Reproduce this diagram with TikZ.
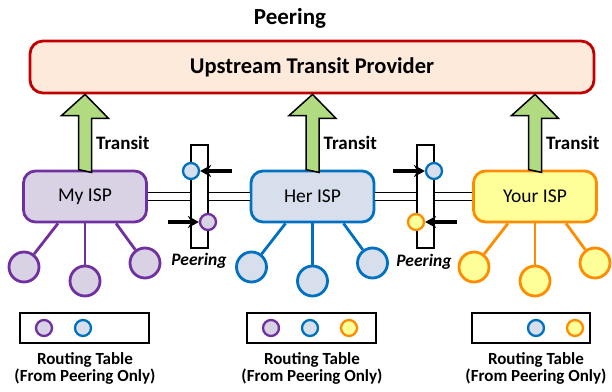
\documentclass[tikz,border=0pt]{standalone}
\usepackage{fontspec}
\setmainfont{Carlito}
\usetikzlibrary{arrows.meta,calc}

% Colores
\definecolor{rojo}{HTML}{C00000}
\definecolor{salmon}{HTML}{FDEADA}
\definecolor{verde}{HTML}{B0DB80}
\definecolor{morado}{HTML}{7030A0}
\definecolor{lila}{HTML}{D9D2E5}
\definecolor{azul}{HTML}{0070C0}
\definecolor{celeste}{HTML}{D6DFEB}
\definecolor{naranja}{HTML}{FF8C00}
\definecolor{amarillo}{HTML}{FFFF99}

\tikzset{
  upstream/.style={draw=rojo, fill=salmon, line width=2.8pt, rounded corners=13pt,
    minimum width=564pt, minimum height=52pt, inner sep=0pt,
    font=\fontsize{22.5}{26}\selectfont\bfseries},
  isp/.style 2 args={draw=#1, fill=#2, line width=2.8pt, rounded corners=12pt,
    minimum width=123pt, minimum height=51pt, inner sep=0pt,
    font=\fontsize{19.5}{22}\selectfont},
  hoja/.style 2 args={circle, draw=#1, fill=#2, line width=2.8pt,
    minimum size=30pt, inner sep=0pt},
  punto/.style 2 args={circle, draw=#1, fill=#2, line width=2.3pt,
    minimum size=16pt, inner sep=0pt},
  rama/.style={draw=#1, line width=2.8pt},
  transito/.style={draw=black, fill=verde, line width=1.5pt, line join=miter},
  enlace/.style={line width=1.6pt, double=white, double distance=6.5pt},
  barra/.style={draw, fill=white, line width=1.6pt, minimum width=17pt,
    minimum height=103pt, inner sep=0pt},
  flecha/.style={line width=3.2pt, -{Stealth[length=11pt,width=12pt]}},
  tabla/.style={draw, line width=2.8pt, minimum height=30pt, inner sep=0pt},
  etiqueta/.style={font=\fontsize{19}{22}\selectfont\bfseries, inner sep=0pt},
  leyenda/.style={align=center, inner sep=0pt, font=\fontsize{17}{17}\selectfont\bfseries},
  peering/.style={inner sep=0pt, font=\fontsize{17.5}{20}\selectfont\bfseries\itshape}
}

\begin{document}
\begin{tikzpicture}[x=1pt,y=1pt]
    \useasboundingbox (0,0) rectangle (612,391);

    % Proveedor de transito
    \node[font=\fontsize{23}{26}\selectfont\bfseries] (titulo) at (290,373) {Peering};
    \node[upstream] (up) at (312,324) {Upstream Transit Provider};

    % Los tres ISP
    \node[isp={morado}{lila}] (my) at (85,194.5) {My ISP};
    \node[isp={azul}{celeste}] (her) at (312.5,194.5) {Her ISP};
    \node[isp={naranja}{amarillo}] (your) at (535,194.5) {Your ISP};

    % Flechas verdes de transito
    \foreach \n in {my,her,your}{
      \draw[transito] ($(\n.north)+(-6.5,0)$) -- ++(0,54) -- ++(-17,0)
        -- (\n.north |- up.south) -- ++(23.5,-24) -- ++(-17,0) -- ++(0,-54) -- cycle;
      \node[etiqueta, anchor=west] (t\n) at ($(\n.north)+(11,27)$) {Transit};
    }

    % Enlaces de peering
    \draw[enlace] (my.east) -- (her.west);
    \draw[enlace] (her.east) -- (your.west);
    \node[barra] (p1) at (199.5,194.5) {};
    \node[barra] (p2) at (425.5,194.5) {};

    \node[punto={azul}{celeste}] (p1a) at (191,220) {};
    \node[punto={morado}{lila}] (p1b) at (208,169) {};
    \node[punto={azul}{celeste}] (p2a) at (434,220) {};
    \node[punto={naranja}{amarillo}] (p2b) at (416,169) {};

    \coordinate (f1a) at (232,220);
    \coordinate (f1b) at (168,169);
    \coordinate (f2a) at (393,220);
    \coordinate (f2b) at (457,169);
    \draw[flecha] (f1a) -- (p1a);
    \draw[flecha] (f1b) -- (p1b);
    \draw[flecha] (f2a) -- (p2a);
    \draw[flecha] (f2b) -- (p2b);

    \node[peering] (l1) at (199,130) {Peering};
    \node[peering] (l2) at (424,129) {Peering};

    % Clientes de cada ISP
    \foreach \n/\c/\f in {my/morado/lila, her/azul/celeste, your/naranja/amarillo}{
      \foreach \dx/\dy/\s [count=\i] in {-61/-70.5/-27, 0/-84.5/0, 60/-66.5/31}{
        \node[hoja={\c}{\f}] (\n\i) at ($(\n)+(\dx,\dy)$) {};
        \draw[rama=\c] ($(\n.south)+(\s,0)$) -- (\n\i);
      }
    }

    % Tablas de rutas
    \node[tabla, minimum width=129pt] (rt1) at (84.5,63) {};
    \node[tabla, minimum width=129pt] (rt2) at (311.5,63) {};
    \node[tabla, minimum width=118pt] (rt3) at (531,63) {};

    \node[punto={morado}{lila}] (r1a) at (44,63) {};
    \node[punto={azul}{celeste}] (r1b) at (83,63) {};
    \node[punto={morado}{lila}] (r2a) at (271,63) {};
    \node[punto={azul}{celeste}] (r2b) at (310,63) {};
    \node[punto={naranja}{amarillo}] (r2c) at (349,63) {};
    \node[punto={azul}{celeste}] (r3b) at (536,63) {};
    \node[punto={naranja}{amarillo}] (r3c) at (575,63) {};

    \node[leyenda] (lt1) at (85,22.5) {Routing Table\\(From Peering Only)};
    \node[leyenda] (lt2) at (312,22.5) {Routing Table\\(From Peering Only)};
    \node[leyenda] (lt3) at (536,22.5) {Routing Table\\(From Peering Only)};
\end{tikzpicture}
\end{document}
